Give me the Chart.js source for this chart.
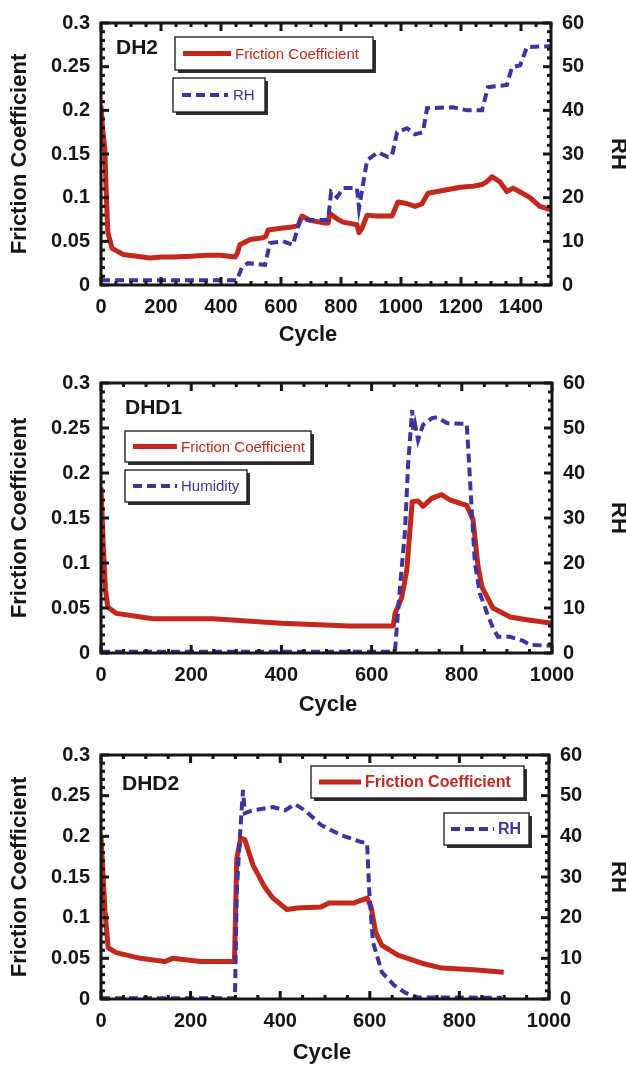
<!DOCTYPE html>
<html>
<head>
<meta charset="utf-8">
<script src="https://cdn.jsdelivr.net/npm/chart.js@4.4.1/dist/chart.umd.min.js"></script>
<style>
  body { margin: 0; background: #fff; }
  #page { position: relative; width: 626px; height: 1066px; }
  canvas { position: absolute; left: 0; }
</style>
</head>
<body>
<div id="page">
  <canvas id="dh2" width="626" height="348" style="top:0px"></canvas>
  <canvas id="dhd1" width="626" height="358" style="top:360px"></canvas>
  <canvas id="dhd2" width="626" height="341" style="top:725px"></canvas>
</div>
<script>
/* ================================
   Data
   ================================ */
const dh2Cycle = [0, 5, 13, 18, 23, 37, 73, 120, 163, 200, 240, 300, 353, 400, 447, 455, 463, 497, 540, 550, 557, 600, 630, 657, 670, 697, 747, 757, 763, 790, 807, 853, 860, 870, 887, 920, 970, 990, 1010, 1030, 1047, 1070, 1090, 1153, 1197, 1240, 1270, 1285, 1303, 1330, 1353, 1373, 1400, 1430, 1463, 1500];
const dh2Friction = [0.205, 0.18, 0.155, 0.1, 0.06, 0.042, 0.035, 0.033, 0.031, 0.032, 0.032, 0.033, 0.034, 0.034, 0.032, 0.037, 0.046, 0.052, 0.054, 0.056, 0.063, 0.065, 0.066, 0.068, 0.079, 0.074, 0.071, 0.071, 0.082, 0.075, 0.072, 0.069, 0.06, 0.065, 0.08, 0.079, 0.079, 0.095, 0.094, 0.092, 0.09, 0.093, 0.105, 0.109, 0.112, 0.113, 0.115, 0.118, 0.124, 0.118, 0.107, 0.111, 0.106, 0.1, 0.09, 0.086];
const dh2RhCycle = [0, 453, 470, 490, 547, 563, 607, 640, 663, 757, 767, 787, 807, 853, 860, 887, 923, 957, 970, 987, 1020, 1047, 1073, 1087, 1173, 1220, 1270, 1290, 1353, 1370, 1397, 1420, 1500];
const dh2Rh = [1.1, 1.1, 4.1, 5, 4.6, 9.6, 10, 9.2, 14.9, 14.9, 21.3, 20.1, 22.2, 22.2, 17.6, 28.6, 30.4, 29.3, 29.7, 35, 35.9, 34.5, 35, 40.5, 40.7, 40, 40, 45.3, 45.8, 49.9, 50.3, 54.5, 54.7];

const dhd1Cycle = [0, 5, 10, 15, 34, 88, 115, 248, 400, 551, 648, 652, 667, 678, 690, 703, 714, 734, 755, 774, 811, 825, 836, 845, 869, 907, 944, 1000];
const dhd1Friction = [0.184, 0.12, 0.07, 0.051, 0.044, 0.04, 0.038, 0.038, 0.033, 0.03, 0.03, 0.044, 0.062, 0.092, 0.168, 0.169, 0.163, 0.172, 0.176, 0.17, 0.164, 0.148, 0.096, 0.073, 0.05, 0.04, 0.037, 0.033];
const dhd1RhCycle = [0, 648, 652, 656, 663, 674, 681, 690, 692, 696, 703, 714, 734, 745, 767, 811, 814, 822, 829, 840, 856, 869, 880, 907, 936, 951, 1000];
const dhd1Rh = [0.3, 0.3, 0.7, 5.8, 14.7, 27, 42, 54, 49.6, 51, 47.3, 50.7, 52.2, 52.4, 51.1, 50.9, 45.8, 31.8, 20, 13.3, 8.9, 5.6, 3.6, 3.6, 2.7, 1.8, 1.6];

const dhd2Cycle = [0, 9, 16, 34, 88, 142, 160, 222, 294, 298, 303, 312, 321, 339, 366, 384, 415, 438, 491, 509, 563, 594, 603, 613, 627, 663, 716, 761, 832, 899];
const dhd2Friction = [0.2, 0.107, 0.063, 0.057, 0.05, 0.046, 0.05, 0.046, 0.046, 0.048, 0.173, 0.198, 0.196, 0.165, 0.137, 0.124, 0.11, 0.112, 0.113, 0.118, 0.118, 0.124, 0.113, 0.082, 0.066, 0.054, 0.044, 0.038, 0.036, 0.033];
const dhd2RhCycle = [0, 299, 303, 310, 317, 321, 339, 384, 411, 433, 455, 491, 536, 581, 594, 599, 607, 627, 654, 680, 707, 895];
const dhd2Rh = [0.2, 0.2, 26, 40, 51.4, 45.7, 46.4, 47.2, 46.4, 47.9, 46.4, 42.8, 40.3, 38.6, 38.3, 26, 14, 6.6, 3.4, 1.5, 0.4, 0.3];

const dh2XTicks = [0, 200, 400, 600, 800, 1000, 1200, 1400];
const dhdXTicks = [0, 200, 400, 600, 800, 1000];
const frictionTicks = [0, 0.05, 0.1, 0.15, 0.2, 0.25, 0.3];
const rhTicks = [0, 10, 20, 30, 40, 50, 60];

/* ================================
   Styles
   ================================ */
const RED = "#c2291c";
const BLUE = "#3d34a2";
const INK = "#161616";
const FAMILY = "'Liberation Sans', Arial, Helvetica, sans-serif";
const TICK_FONT = { family: FAMILY, size: 20, weight: "bold" };
const TITLE_FONT = { family: FAMILY, size: 22, weight: "bold", lineHeight: 1 };

const toPoints = (xs, ys) => xs.map((x, i) => ({ x, y: ys[i] }));

/* ================================
   Frame, inside ticks, legends
   ================================ */
function drawLegend(ctx, l, bold) {
  ctx.fillStyle = "rgba(25,25,25,0.9)";
  ctx.fillRect(l.x + 3, l.y + 3, l.w, l.h);
  ctx.fillStyle = "#fff";
  ctx.fillRect(l.x, l.y, l.w, l.h);
  ctx.lineWidth = 1.3;
  ctx.strokeStyle = INK;
  ctx.strokeRect(l.x, l.y, l.w, l.h);

  const cy = l.y + l.h / 2;
  ctx.beginPath();
  ctx.moveTo(l.x1, cy);
  ctx.lineTo(l.x2, cy);
  ctx.strokeStyle = l.color;
  ctx.lineWidth = l.dashed ? 4 : 5;
  ctx.setLineDash(l.dashed ? [9, 5] : []);
  ctx.stroke();
  ctx.setLineDash([]);

  ctx.fillStyle = l.color;
  ctx.font = (bold ? "bold 16px " : "15px ") + FAMILY;
  ctx.textAlign = "left";
  ctx.textBaseline = "middle";
  ctx.fillText(l.text, l.tx, cy + 1);
}

const framePlugin = {
  id: "frame",
  afterDatasetsDraw(chart, args, opts) {
    const { ctx, chartArea: a, scales } = chart;
    ctx.save();
    ctx.strokeStyle = INK;
    ctx.lineWidth = 3;
    ctx.strokeRect(a.left, a.top, a.right - a.left, a.bottom - a.top);

    const tick = (x1, y1, x2, y2) => {
      ctx.beginPath();
      ctx.moveTo(x1, y1);
      ctx.lineTo(x2, y2);
      ctx.stroke();
    };
    for (let v = 0; v <= opts.xMax; v += 50) {
      const px = scales.x.getPixelForValue(v);
      const len = v % 200 === 0 ? 8 : 4;
      tick(px, a.bottom, px, a.bottom - len);
      tick(px, a.top, px, a.top + len);
    }
    for (let i = 0; i <= 30; i++) {
      const py = scales.y.getPixelForValue(i / 100);
      const len = i % 5 === 0 ? 8 : 4;
      tick(a.left, py, a.left + len, py);
      tick(a.right, py, a.right - len, py);
    }

    ctx.fillStyle = INK;
    ctx.font = "bold 21px " + FAMILY;
    ctx.textAlign = "left";
    ctx.textBaseline = "middle";
    ctx.fillText(opts.label, opts.labelX, opts.labelY);

    ctx.font = "bold 22px " + FAMILY;
    ctx.textAlign = "center";
    ctx.fillText("Cycle", opts.cycleX, opts.cycleY);

    opts.legends.forEach(l => drawLegend(ctx, l, opts.boldLegend));
    ctx.restore();
  }
};

/* ================================
   Panel builder
   ================================ */
function makePanel(p) {
  const canvas = document.getElementById(p.id);
  const axisTicks = values => s => { s.ticks = values.map(v => ({ value: v })); };
  const plain = { display: false, drawTicks: false };

  return new Chart(canvas, {
    type: "line",
    data: {
      datasets: [
        {
          label: p.rhLabel,
          data: toPoints(p.rhCycle, p.rh),
          yAxisID: "y1",
          borderColor: BLUE,
          borderWidth: 4,
          borderDash: [9, 5],
          pointRadius: 0,
          tension: 0,
          order: 0
        },
        {
          label: "Friction Coefficient",
          data: toPoints(p.cycle, p.friction),
          yAxisID: "y",
          borderColor: RED,
          borderWidth: 5,
          borderJoinStyle: "round",
          pointRadius: 0,
          tension: 0,
          order: 1
        }
      ]
    },
    options: {
      responsive: false,
      animation: false,
      devicePixelRatio: 1,
      layout: { padding: { top: p.top, left: 0, right: 0, bottom: 0 } },
      plugins: {
        legend: { display: false },
        tooltip: { enabled: false },
        frame: p
      },
      scales: {
        x: {
          type: "linear",
          min: 0,
          max: p.xMax,
          grid: plain,
          border: { display: false },
          afterBuildTicks: axisTicks(p.xTicks),
          afterFit: s => { s.height = canvas.height - p.bottom; },
          ticks: { padding: 10, color: INK, font: TICK_FONT, maxRotation: 0, autoSkip: false, callback: v => String(v) }
        },
        y: {
          position: "left",
          min: 0,
          max: 0.3,
          grid: plain,
          border: { display: false },
          afterBuildTicks: axisTicks(frictionTicks),
          afterFit: s => { s.width = 101; },
          ticks: { padding: 11, color: INK, font: TICK_FONT, callback: v => String(+v.toFixed(2)) },
          title: { display: true, text: "Friction Coefficient", color: INK, font: TITLE_FONT, padding: { top: 9, bottom: 0 } }
        },
        y1: {
          position: "right",
          min: 0,
          max: 60,
          grid: plain,
          border: { display: false },
          afterBuildTicks: axisTicks(rhTicks),
          afterFit: s => { s.width = 626 - p.right; },
          ticks: { padding: 11, color: INK, font: TICK_FONT, callback: v => String(v) },
          title: { display: true, text: "RH", color: INK, font: TITLE_FONT, padding: { top: -3, bottom: 0 } }
        }
      }
    },
    plugins: [framePlugin]
  });
}

/* ================================
   The three panels
   ================================ */
makePanel({
  id: "dh2", top: 23, bottom: 285, right: 551, xMax: 1500, xTicks: dh2XTicks,
  cycle: dh2Cycle, friction: dh2Friction, rhCycle: dh2RhCycle, rh: dh2Rh, rhLabel: "RH",
  label: "DH2", labelX: 116, labelY: 48, cycleX: 308, cycleY: 335, boldLegend: false,
  legends: [
    { x: 175, y: 37, w: 198, h: 33, x1: 183, x2: 231, tx: 235, color: RED, text: "Friction Coefficient" },
    { x: 173, y: 78, w: 92, h: 34, x1: 182, x2: 228, tx: 233, color: BLUE, dashed: true, text: "RH" }
  ]
});

makePanel({
  id: "dhd1", top: 23, bottom: 293, right: 552, xMax: 1000, xTicks: dhdXTicks,
  cycle: dhd1Cycle, friction: dhd1Friction, rhCycle: dhd1RhCycle, rh: dhd1Rh, rhLabel: "Humidity",
  label: "DHD1", labelX: 125, labelY: 48, cycleX: 328, cycleY: 345, boldLegend: false,
  legends: [
    { x: 125, y: 71, w: 186, h: 31, x1: 133, x2: 177, tx: 181, color: RED, text: "Friction Coefficient" },
    { x: 125, y: 110, w: 122, h: 32, x1: 133, x2: 177, tx: 181, color: BLUE, dashed: true, text: "Humidity" }
  ]
});

makePanel({
  id: "dhd2", top: 30, bottom: 274, right: 549, xMax: 1000, xTicks: dhdXTicks,
  cycle: dhd2Cycle, friction: dhd2Friction, rhCycle: dhd2RhCycle, rh: dhd2Rh, rhLabel: "RH",
  label: "DHD2", labelX: 122, labelY: 59, cycleX: 322, cycleY: 328, boldLegend: true,
  legends: [
    { x: 311, y: 41, w: 213, h: 32, x1: 319, x2: 361, tx: 365, color: RED, text: "Friction Coefficient" },
    { x: 444, y: 88, w: 85, h: 32, x1: 451, x2: 494, tx: 498, color: BLUE, dashed: true, text: "RH" }
  ]
});
</script>
</body>
</html>
